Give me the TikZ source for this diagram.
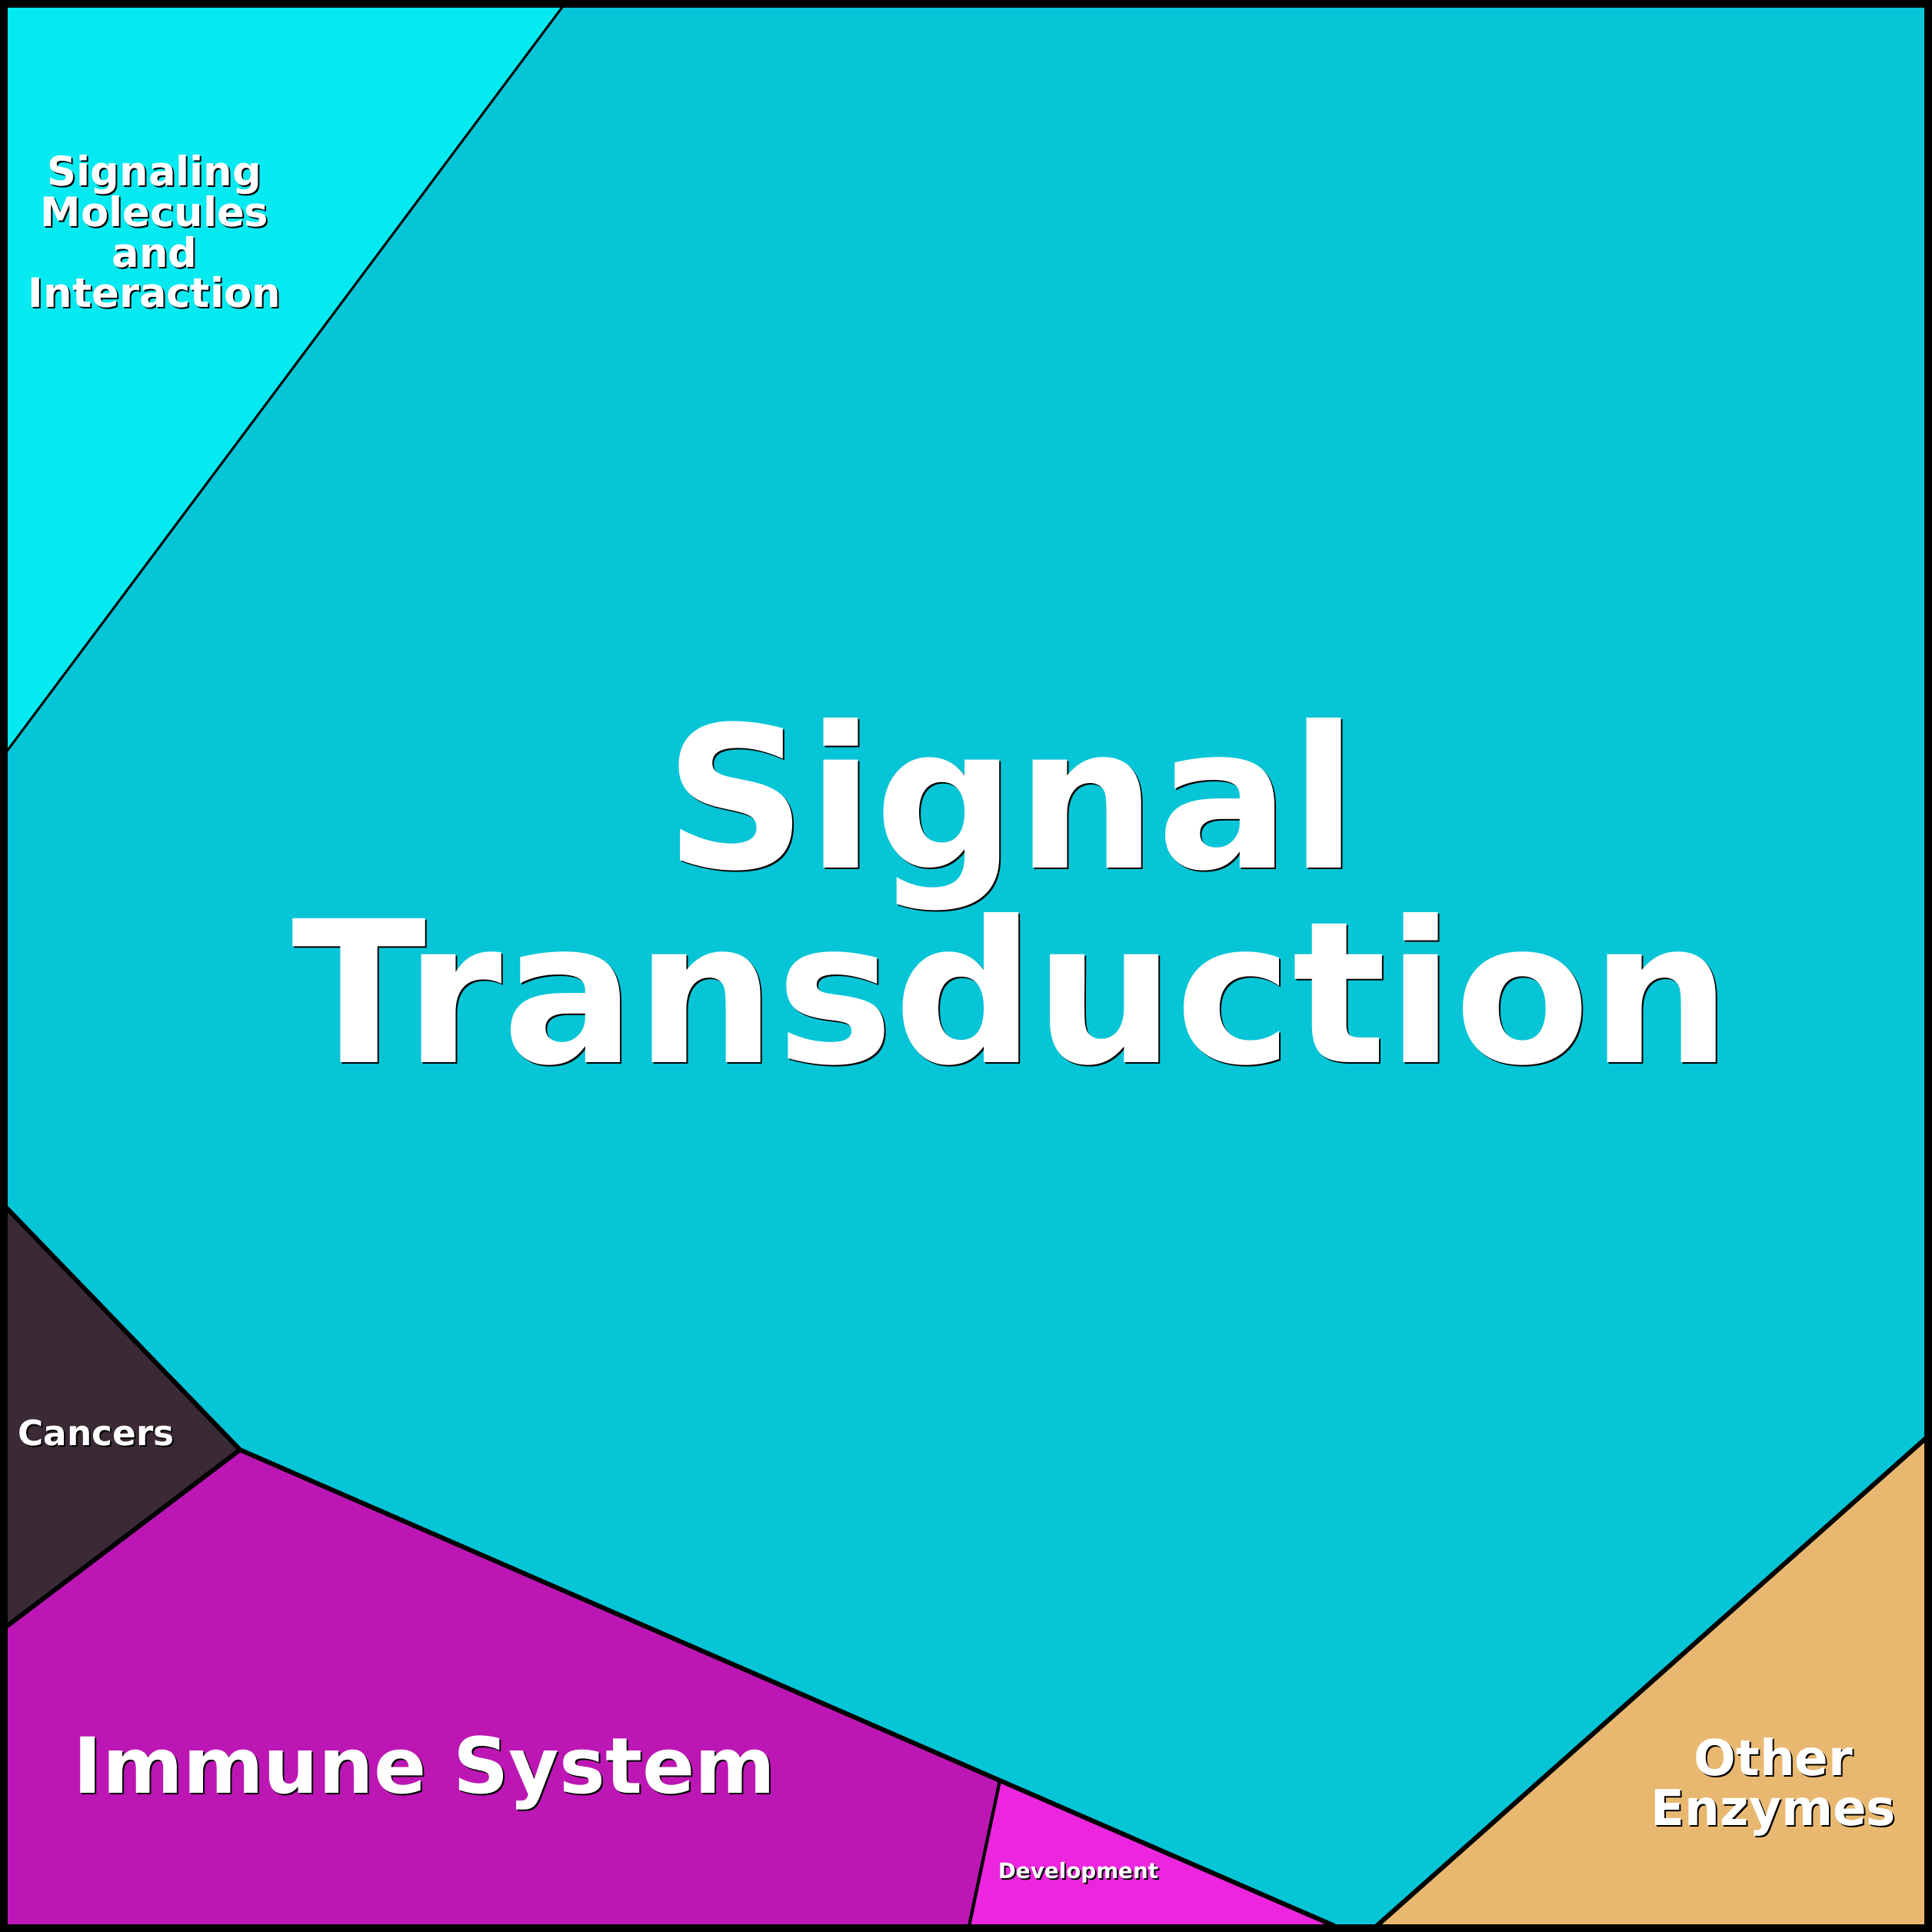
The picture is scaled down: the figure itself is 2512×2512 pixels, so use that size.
\documentclass[tikz,border=0pt]{standalone}
\usepackage{fontspec}
\setmainfont{DejaVu Sans}
\usepackage{tikz}
\usetikzlibrary{positioning}

\definecolor{sigmol}{HTML}{05E9F0}
\definecolor{sigtrans}{HTML}{05C5D6}
\definecolor{cancer}{HTML}{3A2A35}
\definecolor{immune}{HTML}{BC17B4}
\definecolor{develop}{HTML}{EC26DE}
\definecolor{enzyme}{HTML}{E8B870}

\newcommand{\celltext}[4]{%
  \node[lblshadow, font=\bfseries\fontsize{#2}{#3}\selectfont] at ([shift={(2,2)}]#1) {#4};
  \node[lbl, font=\bfseries\fontsize{#2}{#3}\selectfont] at (#1) {#4};
}

\begin{document}
\setlength{\lineskiplimit}{-100pt}
\begin{tikzpicture}[x=0.01cm, y=-0.01cm,
    lbl/.style={text=white, align=center, inner sep=0pt},
    lblshadow/.style={text=black, align=center, inner sep=0pt},
    thin cell/.style={draw=black, line width=0.85pt, line join=round},
    thick cell/.style={draw=black, line width=1.7pt, line join=round}]
  \useasboundingbox (0,0) rectangle (2512,2512);

  % corner points of the cells
  \coordinate (tl) at (8,8);
  \coordinate (tr) at (2504,8);
  \coordinate (br) at (2504,2504);
  \coordinate (bl) at (8,2504);
  \coordinate (smtop) at (732,8);
  \coordinate (smleft) at (8,978);
  \coordinate (catop) at (8,1570);
  \coordinate (camid) at (312,1885);
  \coordinate (cabot) at (8,2115);
  \coordinate (dvtop) at (1300,2315);
  \coordinate (dvleft) at (1260,2504);
  \coordinate (dvright) at (1735,2504);
  \coordinate (oeleft) at (1790,2504);
  \coordinate (oetop) at (2504,1870);

  % cells
  \fill[sigtrans] (tl) rectangle (br);
  \fill[sigmol] (tl) -- (smtop) -- (smleft) -- cycle;
  \fill[cancer] (catop) -- (camid) -- (cabot) -- cycle;
  \fill[immune] (cabot) -- (camid) -- (dvtop) -- (dvleft) -- (bl) -- cycle;
  \fill[develop] (dvtop) -- (dvright) -- (dvleft) -- cycle;
  \fill[enzyme] (oeleft) -- (oetop) -- (br) -- cycle;

  % cell borders
  \draw[thin cell] (smtop) -- (smleft);
  \draw[thick cell] (catop) -- (camid) -- (cabot);
  \draw[thick cell] (camid) -- (dvtop) -- (dvright);
  \draw[thin cell, line width=1.2pt] (dvtop) -- (dvleft);
  \draw[thick cell] (oeleft) -- (oetop);
  \draw[black, line width=2.85pt] (5,5) rectangle (2507,2507);

  % labels
  \coordinate (sigmolc) at (201,301);
  \coordinate (sigtransc) at (1315,1159);
  \coordinate (cancerc) at (125,1863);
  \coordinate (immunec) at (552,2305);
  \coordinate (developc) at (1402,2435);
  \coordinate (enzymec) at (2306,2323);
  \celltext{sigmolc}{15}{15}{Signaling\\Molecules\\and\\Interaction}
  \celltext{sigtransc}{73}{72}{Signal\\Transduction}
  \celltext{cancerc}{12.9}{14}{Cancers}
  \celltext{immunec}{28.6}{30}{Immune System}
  \celltext{developc}{7.9}{9}{Development}
  \celltext{enzymec}{18.3}{18.5}{Other\\Enzymes}
\end{tikzpicture}
\end{document}
